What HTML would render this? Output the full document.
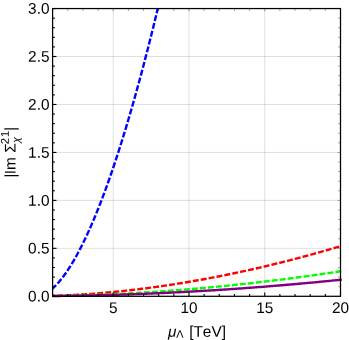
<!DOCTYPE html>
<html><head><meta charset="utf-8"><title>plot</title>
<style>
html,body{margin:0;padding:0;background:#fff;}
svg{display:block;will-change:transform;}
text{font-family:"Liberation Sans",sans-serif;fill:#000;font-kerning:none;}
</style></head><body>
<svg width="349" height="340" viewBox="0 0 349 340">
<rect x="0" y="0" width="349" height="340" fill="#fff"/>
<defs><clipPath id="c"><rect x="50.60" y="8.55" width="291.90" height="289.75"/></clipPath></defs>
<g stroke="#000" stroke-opacity="0.21" stroke-width="0.6" fill="none">
<line x1="113.21" y1="8.55" x2="113.21" y2="296.30"/>
<line x1="188.97" y1="8.55" x2="188.97" y2="296.30"/>
<line x1="264.74" y1="8.55" x2="264.74" y2="296.30"/>
<line x1="52.60" y1="248.34" x2="340.50" y2="248.34"/>
<line x1="52.60" y1="200.38" x2="340.50" y2="200.38"/>
<line x1="52.60" y1="152.43" x2="340.50" y2="152.43"/>
<line x1="52.60" y1="104.47" x2="340.50" y2="104.47"/>
<line x1="52.60" y1="56.51" x2="340.50" y2="56.51"/>
</g>
<g clip-path="url(#c)" fill="none" stroke-width="2.4" stroke-linecap="butt" stroke-linejoin="round">
<path d="M52.60,288.48 L53.15,287.99 L53.69,287.48 L54.24,286.96 L54.78,286.42 L55.33,285.87 L55.87,285.31 L56.42,284.74 L56.96,284.16 L57.51,283.56 L58.05,282.95 L58.60,282.33 L59.15,281.70 L59.69,281.05 L60.24,280.40 L60.78,279.73 L61.33,279.05 L61.87,278.36 L62.42,277.66 L62.96,276.94 L63.51,276.22 L64.06,275.48 L64.60,274.73 L65.15,273.97 L65.69,273.20 L66.24,272.42 L66.78,271.62 L67.33,270.82 L67.87,270.01 L68.42,269.18 L68.96,268.34 L69.51,267.50 L70.06,266.64 L70.60,265.77 L71.15,264.89 L71.69,264.00 L72.24,263.10 L72.78,262.19 L73.33,261.27 L73.87,260.34 L74.42,259.39 L74.97,258.44 L75.51,257.48 L76.06,256.50 L76.60,255.52 L77.15,254.53 L77.69,253.52 L78.24,252.51 L78.78,251.49 L79.33,250.45 L79.87,249.41 L80.42,248.35 L80.97,247.29 L81.51,246.22 L82.06,245.13 L82.60,244.04 L83.15,242.93 L83.69,241.82 L84.24,240.70 L84.78,239.57 L85.33,238.42 L85.88,237.27 L86.42,236.11 L86.97,234.94 L87.51,233.76 L88.06,232.57 L88.60,231.37 L89.15,230.16 L89.69,228.94 L90.24,227.71 L90.78,226.47 L91.33,225.22 L91.88,223.97 L92.42,222.70 L92.97,221.43 L93.51,220.14 L94.06,218.85 L94.60,217.54 L95.15,216.23 L95.69,214.91 L96.24,213.58 L96.79,212.24 L97.33,210.89 L97.88,209.53 L98.42,208.16 L98.97,206.79 L99.51,205.40 L100.06,204.01 L100.60,202.60 L101.15,201.19 L101.69,199.77 L102.24,198.34 L102.79,196.90 L103.33,195.45 L103.88,193.99 L104.42,192.53 L104.97,191.05 L105.51,189.57 L106.06,188.07 L106.60,186.57 L107.15,185.06 L107.69,183.54 L108.24,182.02 L108.79,180.48 L109.33,178.93 L109.88,177.38 L110.42,175.82 L110.97,174.25 L111.51,172.67 L112.06,171.08 L112.60,169.48 L113.15,167.87 L113.70,166.26 L114.24,164.64 L114.79,163.00 L115.33,161.36 L115.88,159.72 L116.42,158.06 L116.97,156.39 L117.51,154.72 L118.06,153.04 L118.60,151.34 L119.15,149.65 L119.70,147.94 L120.24,146.22 L120.79,144.50 L121.33,142.76 L121.88,141.02 L122.42,139.27 L122.97,137.51 L123.51,135.75 L124.06,133.97 L124.61,132.19 L125.15,130.40 L125.70,128.60 L126.24,126.79 L126.79,124.97 L127.33,123.15 L127.88,121.32 L128.42,119.48 L128.97,117.63 L129.51,115.77 L130.06,113.91 L130.61,112.03 L131.15,110.15 L131.70,108.26 L132.24,106.36 L132.79,104.46 L133.33,102.54 L133.88,100.62 L134.42,98.69 L134.97,96.75 L135.52,94.81 L136.06,92.85 L136.61,90.89 L137.15,88.92 L137.70,86.94 L138.24,84.96 L138.79,82.96 L139.33,80.96 L139.88,78.95 L140.42,76.93 L140.97,74.91 L141.52,72.87 L142.06,70.83 L142.61,68.78 L143.15,66.72 L143.70,64.66 L144.24,62.59 L144.79,60.50 L145.33,58.42 L145.88,56.32 L146.43,54.21 L146.97,52.10 L147.52,49.98 L148.06,47.85 L148.61,45.72 L149.15,43.57 L149.70,41.42 L150.24,39.26 L150.79,37.10 L151.33,34.92 L151.88,32.74 L152.43,30.55 L152.97,28.35 L153.52,26.15 L154.06,23.93 L154.61,21.71 L155.15,19.48 L155.70,17.25 L156.24,15.01 L156.79,12.75 L157.33,10.50 L157.88,8.23 L158.43,5.95 L158.97,3.67 L159.52,1.38 L160.06,-0.91 L160.61,-3.22 L161.15,-5.53 L161.70,-7.85" stroke="#0000ff" stroke-dasharray="5.95 2.1" stroke-dashoffset="1.07"/>
<path d="M52.60,295.83 L54.04,295.79 L55.48,295.75 L56.92,295.70 L58.36,295.66 L59.80,295.61 L61.24,295.55 L62.68,295.50 L64.12,295.44 L65.56,295.38 L67.00,295.31 L68.43,295.25 L69.87,295.18 L71.31,295.11 L72.75,295.03 L74.19,294.96 L75.63,294.88 L77.07,294.80 L78.51,294.71 L79.95,294.63 L81.39,294.54 L82.83,294.45 L84.27,294.35 L85.71,294.26 L87.15,294.16 L88.59,294.06 L90.03,293.96 L91.47,293.85 L92.91,293.75 L94.35,293.64 L95.78,293.52 L97.22,293.41 L98.66,293.29 L100.10,293.18 L101.54,293.05 L102.98,292.93 L104.42,292.81 L105.86,292.68 L107.30,292.55 L108.74,292.42 L110.18,292.28 L111.62,292.15 L113.06,292.01 L114.50,291.87 L115.94,291.73 L117.38,291.58 L118.82,291.44 L120.26,291.29 L121.70,291.14 L123.14,290.98 L124.57,290.83 L126.01,290.67 L127.45,290.51 L128.89,290.35 L130.33,290.19 L131.77,290.02 L133.21,289.85 L134.65,289.68 L136.09,289.51 L137.53,289.34 L138.97,289.16 L140.41,288.99 L141.85,288.81 L143.29,288.62 L144.73,288.44 L146.17,288.25 L147.61,288.07 L149.05,287.88 L150.49,287.68 L151.93,287.49 L153.37,287.29 L154.80,287.10 L156.24,286.90 L157.68,286.70 L159.12,286.49 L160.56,286.29 L162.00,286.08 L163.44,285.87 L164.88,285.66 L166.32,285.44 L167.76,285.23 L169.20,285.01 L170.64,284.79 L172.08,284.57 L173.52,284.35 L174.96,284.12 L176.40,283.90 L177.84,283.67 L179.28,283.44 L180.72,283.20 L182.16,282.97 L183.59,282.73 L185.03,282.49 L186.47,282.25 L187.91,282.01 L189.35,281.77 L190.79,281.52 L192.23,281.27 L193.67,281.02 L195.11,280.77 L196.55,280.52 L197.99,280.26 L199.43,280.01 L200.87,279.75 L202.31,279.49 L203.75,279.22 L205.19,278.96 L206.63,278.69 L208.07,278.42 L209.51,278.15 L210.94,277.88 L212.38,277.61 L213.82,277.33 L215.26,277.06 L216.70,276.78 L218.14,276.50 L219.58,276.21 L221.02,275.93 L222.46,275.64 L223.90,275.35 L225.34,275.06 L226.78,274.77 L228.22,274.48 L229.66,274.18 L231.10,273.88 L232.54,273.59 L233.98,273.28 L235.42,272.98 L236.86,272.68 L238.30,272.37 L239.73,272.06 L241.17,271.75 L242.61,271.44 L244.05,271.13 L245.49,270.81 L246.93,270.50 L248.37,270.18 L249.81,269.86 L251.25,269.53 L252.69,269.21 L254.13,268.88 L255.57,268.56 L257.01,268.23 L258.45,267.90 L259.89,267.56 L261.33,267.23 L262.77,266.89 L264.21,266.56 L265.65,266.22 L267.09,265.87 L268.52,265.53 L269.96,265.19 L271.40,264.84 L272.84,264.49 L274.28,264.14 L275.72,263.79 L277.16,263.43 L278.60,263.08 L280.04,262.72 L281.48,262.36 L282.92,262.00 L284.36,261.64 L285.80,261.28 L287.24,260.91 L288.68,260.54 L290.12,260.17 L291.56,259.80 L293.00,259.43 L294.44,259.06 L295.88,258.68 L297.31,258.30 L298.75,257.92 L300.19,257.54 L301.63,257.16 L303.07,256.78 L304.51,256.39 L305.95,256.00 L307.39,255.61 L308.83,255.22 L310.27,254.83 L311.71,254.43 L313.15,254.04 L314.59,253.64 L316.03,253.24 L317.47,252.84 L318.91,252.44 L320.35,252.03 L321.79,251.63 L323.23,251.22 L324.67,250.81 L326.11,250.40 L327.54,249.98 L328.98,249.57 L330.42,249.15 L331.86,248.74 L333.30,248.32 L334.74,247.89 L336.18,247.47 L337.62,247.05 L339.06,246.62 L340.50,246.19" stroke="#ff0000" stroke-dasharray="5.94 2.09" stroke-dashoffset="3.42"/>
<path d="M52.60,295.96 L54.05,295.94 L55.49,295.92 L56.94,295.90 L58.38,295.88 L59.83,295.86 L61.28,295.83 L62.72,295.81 L64.17,295.78 L65.61,295.76 L67.06,295.73 L68.51,295.70 L69.95,295.67 L71.40,295.63 L72.84,295.60 L74.29,295.56 L75.74,295.53 L77.18,295.49 L78.63,295.45 L80.07,295.41 L81.52,295.37 L82.97,295.33 L84.41,295.29 L85.86,295.24 L87.30,295.20 L88.75,295.15 L90.20,295.10 L91.64,295.05 L93.09,295.00 L94.53,294.95 L95.98,294.90 L97.43,294.84 L98.87,294.79 L100.32,294.73 L101.76,294.68 L103.21,294.62 L104.66,294.56 L106.10,294.50 L107.55,294.44 L108.99,294.37 L110.44,294.31 L111.89,294.25 L113.33,294.18 L114.78,294.11 L116.22,294.04 L117.67,293.97 L119.12,293.90 L120.56,293.83 L122.01,293.76 L123.45,293.69 L124.90,293.61 L126.35,293.54 L127.79,293.46 L129.24,293.38 L130.68,293.30 L132.13,293.22 L133.58,293.14 L135.02,293.06 L136.47,292.98 L137.91,292.89 L139.36,292.81 L140.81,292.72 L142.25,292.63 L143.70,292.54 L145.15,292.45 L146.59,292.36 L148.04,292.27 L149.48,292.18 L150.93,292.09 L152.38,291.99 L153.82,291.90 L155.27,291.80 L156.71,291.70 L158.16,291.60 L159.61,291.50 L161.05,291.40 L162.50,291.30 L163.94,291.20 L165.39,291.09 L166.84,290.99 L168.28,290.88 L169.73,290.77 L171.17,290.67 L172.62,290.56 L174.07,290.45 L175.51,290.34 L176.96,290.22 L178.40,290.11 L179.85,290.00 L181.30,289.88 L182.74,289.77 L184.19,289.65 L185.63,289.53 L187.08,289.41 L188.53,289.29 L189.97,289.17 L191.42,289.05 L192.86,288.92 L194.31,288.80 L195.76,288.68 L197.20,288.55 L198.65,288.42 L200.09,288.29 L201.54,288.16 L202.99,288.03 L204.43,287.90 L205.88,287.77 L207.32,287.64 L208.77,287.50 L210.22,287.37 L211.66,287.23 L213.11,287.10 L214.55,286.96 L216.00,286.82 L217.45,286.68 L218.89,286.54 L220.34,286.40 L221.78,286.25 L223.23,286.11 L224.68,285.97 L226.12,285.82 L227.57,285.67 L229.01,285.53 L230.46,285.38 L231.91,285.23 L233.35,285.08 L234.80,284.92 L236.24,284.77 L237.69,284.62 L239.14,284.46 L240.58,284.31 L242.03,284.15 L243.47,284.00 L244.92,283.84 L246.37,283.68 L247.81,283.52 L249.26,283.36 L250.70,283.19 L252.15,283.03 L253.60,282.87 L255.04,282.70 L256.49,282.54 L257.93,282.37 L259.38,282.20 L260.83,282.03 L262.27,281.86 L263.72,281.69 L265.16,281.52 L266.61,281.35 L268.06,281.18 L269.50,281.00 L270.95,280.83 L272.39,280.65 L273.84,280.47 L275.29,280.29 L276.73,280.11 L278.18,279.93 L279.62,279.75 L281.07,279.57 L282.52,279.39 L283.96,279.20 L285.41,279.02 L286.85,278.83 L288.30,278.65 L289.75,278.46 L291.19,278.27 L292.64,278.08 L294.08,277.89 L295.53,277.70 L296.98,277.51 L298.42,277.31 L299.87,277.12 L301.31,276.93 L302.76,276.73 L304.21,276.53 L305.65,276.34 L307.10,276.14 L308.54,275.94 L309.99,275.74 L311.44,275.54 L312.88,275.33 L314.33,275.13 L315.77,274.93 L317.22,274.72 L318.67,274.51 L320.11,274.31 L321.56,274.10 L323.00,273.89 L324.45,273.68 L325.90,273.47 L327.34,273.26 L328.79,273.05 L330.24,272.83 L331.68,272.62 L333.13,272.40 L334.57,272.19 L336.02,271.97 L337.47,271.75 L338.91,271.53 L340.36,271.31 L341.80,271.09" stroke="#00ff00" stroke-dasharray="5.94 2.09" stroke-dashoffset="5.05"/>
<path d="M52.60,296.00 L54.05,295.99 L55.49,295.97 L56.94,295.96 L58.38,295.95 L59.83,295.94 L61.28,295.92 L62.72,295.91 L64.17,295.89 L65.61,295.87 L67.06,295.85 L68.51,295.84 L69.95,295.82 L71.40,295.80 L72.84,295.78 L74.29,295.75 L75.74,295.73 L77.18,295.71 L78.63,295.68 L80.07,295.66 L81.52,295.63 L82.97,295.61 L84.41,295.58 L85.86,295.55 L87.30,295.52 L88.75,295.49 L90.20,295.46 L91.64,295.43 L93.09,295.40 L94.53,295.37 L95.98,295.34 L97.43,295.30 L98.87,295.27 L100.32,295.23 L101.76,295.20 L103.21,295.16 L104.66,295.12 L106.10,295.08 L107.55,295.04 L108.99,295.00 L110.44,294.96 L111.89,294.92 L113.33,294.88 L114.78,294.84 L116.22,294.79 L117.67,294.75 L119.12,294.70 L120.56,294.66 L122.01,294.61 L123.45,294.56 L124.90,294.52 L126.35,294.47 L127.79,294.42 L129.24,294.37 L130.68,294.32 L132.13,294.27 L133.58,294.21 L135.02,294.16 L136.47,294.11 L137.91,294.05 L139.36,294.00 L140.81,293.94 L142.25,293.89 L143.70,293.83 L145.15,293.77 L146.59,293.71 L148.04,293.65 L149.48,293.60 L150.93,293.53 L152.38,293.47 L153.82,293.41 L155.27,293.35 L156.71,293.29 L158.16,293.22 L159.61,293.16 L161.05,293.09 L162.50,293.02 L163.94,292.96 L165.39,292.89 L166.84,292.82 L168.28,292.75 L169.73,292.68 L171.17,292.61 L172.62,292.54 L174.07,292.47 L175.51,292.40 L176.96,292.33 L178.40,292.25 L179.85,292.18 L181.30,292.10 L182.74,292.03 L184.19,291.95 L185.63,291.87 L187.08,291.80 L188.53,291.72 L189.97,291.64 L191.42,291.56 L192.86,291.48 L194.31,291.40 L195.76,291.31 L197.20,291.23 L198.65,291.15 L200.09,291.06 L201.54,290.98 L202.99,290.90 L204.43,290.81 L205.88,290.72 L207.32,290.64 L208.77,290.55 L210.22,290.46 L211.66,290.37 L213.11,290.28 L214.55,290.19 L216.00,290.10 L217.45,290.01 L218.89,289.91 L220.34,289.82 L221.78,289.73 L223.23,289.63 L224.68,289.54 L226.12,289.44 L227.57,289.34 L229.01,289.25 L230.46,289.15 L231.91,289.05 L233.35,288.95 L234.80,288.85 L236.24,288.75 L237.69,288.65 L239.14,288.55 L240.58,288.44 L242.03,288.34 L243.47,288.24 L244.92,288.13 L246.37,288.03 L247.81,287.92 L249.26,287.82 L250.70,287.71 L252.15,287.60 L253.60,287.49 L255.04,287.38 L256.49,287.27 L257.93,287.16 L259.38,287.05 L260.83,286.94 L262.27,286.83 L263.72,286.71 L265.16,286.60 L266.61,286.49 L268.06,286.37 L269.50,286.26 L270.95,286.14 L272.39,286.02 L273.84,285.91 L275.29,285.79 L276.73,285.67 L278.18,285.55 L279.62,285.43 L281.07,285.31 L282.52,285.19 L283.96,285.06 L285.41,284.94 L286.85,284.82 L288.30,284.69 L289.75,284.57 L291.19,284.44 L292.64,284.32 L294.08,284.19 L295.53,284.06 L296.98,283.94 L298.42,283.81 L299.87,283.68 L301.31,283.55 L302.76,283.42 L304.21,283.29 L305.65,283.15 L307.10,283.02 L308.54,282.89 L309.99,282.76 L311.44,282.62 L312.88,282.49 L314.33,282.35 L315.77,282.21 L317.22,282.08 L318.67,281.94 L320.11,281.80 L321.56,281.66 L323.00,281.52 L324.45,281.38 L325.90,281.24 L327.34,281.10 L328.79,280.96 L330.24,280.82 L331.68,280.67 L333.13,280.53 L334.57,280.38 L336.02,280.24 L337.47,280.09 L338.91,279.95 L340.36,279.80 L341.80,279.65" stroke="#800080"/>
</g>
<g stroke="#000" stroke-width="1.1" fill="none">
<line x1="52.60" y1="296.30" x2="52.60" y2="294.00"/>
<line x1="67.75" y1="296.30" x2="67.75" y2="294.00"/>
<line x1="82.91" y1="296.30" x2="82.91" y2="294.00"/>
<line x1="98.06" y1="296.30" x2="98.06" y2="294.00"/>
<line x1="113.21" y1="296.30" x2="113.21" y2="292.40"/>
<line x1="128.36" y1="296.30" x2="128.36" y2="294.00"/>
<line x1="143.52" y1="296.30" x2="143.52" y2="294.00"/>
<line x1="158.67" y1="296.30" x2="158.67" y2="294.00"/>
<line x1="173.82" y1="296.30" x2="173.82" y2="294.00"/>
<line x1="188.97" y1="296.30" x2="188.97" y2="292.40"/>
<line x1="204.13" y1="296.30" x2="204.13" y2="294.00"/>
<line x1="219.28" y1="296.30" x2="219.28" y2="294.00"/>
<line x1="234.43" y1="296.30" x2="234.43" y2="294.00"/>
<line x1="249.58" y1="296.30" x2="249.58" y2="294.00"/>
<line x1="264.74" y1="296.30" x2="264.74" y2="292.40"/>
<line x1="279.89" y1="296.30" x2="279.89" y2="294.00"/>
<line x1="295.04" y1="296.30" x2="295.04" y2="294.00"/>
<line x1="310.19" y1="296.30" x2="310.19" y2="294.00"/>
<line x1="325.35" y1="296.30" x2="325.35" y2="294.00"/>
<line x1="340.50" y1="296.30" x2="340.50" y2="292.40"/>
<line x1="52.60" y1="296.30" x2="56.50" y2="296.30"/>
<line x1="52.60" y1="286.71" x2="54.90" y2="286.71"/>
<line x1="52.60" y1="277.12" x2="54.90" y2="277.12"/>
<line x1="52.60" y1="267.53" x2="54.90" y2="267.53"/>
<line x1="52.60" y1="257.93" x2="54.90" y2="257.93"/>
<line x1="52.60" y1="248.34" x2="56.50" y2="248.34"/>
<line x1="52.60" y1="238.75" x2="54.90" y2="238.75"/>
<line x1="52.60" y1="229.16" x2="54.90" y2="229.16"/>
<line x1="52.60" y1="219.57" x2="54.90" y2="219.57"/>
<line x1="52.60" y1="209.98" x2="54.90" y2="209.98"/>
<line x1="52.60" y1="200.38" x2="56.50" y2="200.38"/>
<line x1="52.60" y1="190.79" x2="54.90" y2="190.79"/>
<line x1="52.60" y1="181.20" x2="54.90" y2="181.20"/>
<line x1="52.60" y1="171.61" x2="54.90" y2="171.61"/>
<line x1="52.60" y1="162.02" x2="54.90" y2="162.02"/>
<line x1="52.60" y1="152.43" x2="56.50" y2="152.43"/>
<line x1="52.60" y1="142.83" x2="54.90" y2="142.83"/>
<line x1="52.60" y1="133.24" x2="54.90" y2="133.24"/>
<line x1="52.60" y1="123.65" x2="54.90" y2="123.65"/>
<line x1="52.60" y1="114.06" x2="54.90" y2="114.06"/>
<line x1="52.60" y1="104.47" x2="56.50" y2="104.47"/>
<line x1="52.60" y1="94.88" x2="54.90" y2="94.88"/>
<line x1="52.60" y1="85.28" x2="54.90" y2="85.28"/>
<line x1="52.60" y1="75.69" x2="54.90" y2="75.69"/>
<line x1="52.60" y1="66.10" x2="54.90" y2="66.10"/>
<line x1="52.60" y1="56.51" x2="56.50" y2="56.51"/>
<line x1="52.60" y1="46.92" x2="54.90" y2="46.92"/>
<line x1="52.60" y1="37.32" x2="54.90" y2="37.32"/>
<line x1="52.60" y1="27.73" x2="54.90" y2="27.73"/>
<line x1="52.60" y1="18.14" x2="54.90" y2="18.14"/>
<line x1="52.60" y1="8.55" x2="56.50" y2="8.55"/>
</g>
<g stroke="#000" stroke-opacity="0.5" stroke-width="0.7" fill="none">
<line x1="52.60" y1="8.55" x2="52.60" y2="11.05"/>
<line x1="67.75" y1="8.55" x2="67.75" y2="11.05"/>
<line x1="82.91" y1="8.55" x2="82.91" y2="11.05"/>
<line x1="98.06" y1="8.55" x2="98.06" y2="11.05"/>
<line x1="113.21" y1="8.55" x2="113.21" y2="11.35"/>
<line x1="128.36" y1="8.55" x2="128.36" y2="11.05"/>
<line x1="143.52" y1="8.55" x2="143.52" y2="11.05"/>
<line x1="158.67" y1="8.55" x2="158.67" y2="11.05"/>
<line x1="173.82" y1="8.55" x2="173.82" y2="11.05"/>
<line x1="188.97" y1="8.55" x2="188.97" y2="11.35"/>
<line x1="204.13" y1="8.55" x2="204.13" y2="11.05"/>
<line x1="219.28" y1="8.55" x2="219.28" y2="11.05"/>
<line x1="234.43" y1="8.55" x2="234.43" y2="11.05"/>
<line x1="249.58" y1="8.55" x2="249.58" y2="11.05"/>
<line x1="264.74" y1="8.55" x2="264.74" y2="11.35"/>
<line x1="279.89" y1="8.55" x2="279.89" y2="11.05"/>
<line x1="295.04" y1="8.55" x2="295.04" y2="11.05"/>
<line x1="310.19" y1="8.55" x2="310.19" y2="11.05"/>
<line x1="325.35" y1="8.55" x2="325.35" y2="11.05"/>
<line x1="340.50" y1="8.55" x2="340.50" y2="11.35"/>
<line x1="340.50" y1="296.30" x2="337.70" y2="296.30"/>
<line x1="340.50" y1="286.71" x2="338.00" y2="286.71"/>
<line x1="340.50" y1="277.12" x2="338.00" y2="277.12"/>
<line x1="340.50" y1="267.53" x2="338.00" y2="267.53"/>
<line x1="340.50" y1="257.93" x2="338.00" y2="257.93"/>
<line x1="340.50" y1="248.34" x2="337.70" y2="248.34"/>
<line x1="340.50" y1="238.75" x2="338.00" y2="238.75"/>
<line x1="340.50" y1="229.16" x2="338.00" y2="229.16"/>
<line x1="340.50" y1="219.57" x2="338.00" y2="219.57"/>
<line x1="340.50" y1="209.98" x2="338.00" y2="209.98"/>
<line x1="340.50" y1="200.38" x2="337.70" y2="200.38"/>
<line x1="340.50" y1="190.79" x2="338.00" y2="190.79"/>
<line x1="340.50" y1="181.20" x2="338.00" y2="181.20"/>
<line x1="340.50" y1="171.61" x2="338.00" y2="171.61"/>
<line x1="340.50" y1="162.02" x2="338.00" y2="162.02"/>
<line x1="340.50" y1="152.43" x2="337.70" y2="152.43"/>
<line x1="340.50" y1="142.83" x2="338.00" y2="142.83"/>
<line x1="340.50" y1="133.24" x2="338.00" y2="133.24"/>
<line x1="340.50" y1="123.65" x2="338.00" y2="123.65"/>
<line x1="340.50" y1="114.06" x2="338.00" y2="114.06"/>
<line x1="340.50" y1="104.47" x2="337.70" y2="104.47"/>
<line x1="340.50" y1="94.88" x2="338.00" y2="94.88"/>
<line x1="340.50" y1="85.28" x2="338.00" y2="85.28"/>
<line x1="340.50" y1="75.69" x2="338.00" y2="75.69"/>
<line x1="340.50" y1="66.10" x2="338.00" y2="66.10"/>
<line x1="340.50" y1="56.51" x2="337.70" y2="56.51"/>
<line x1="340.50" y1="46.92" x2="338.00" y2="46.92"/>
<line x1="340.50" y1="37.32" x2="338.00" y2="37.32"/>
<line x1="340.50" y1="27.73" x2="338.00" y2="27.73"/>
<line x1="340.50" y1="18.14" x2="338.00" y2="18.14"/>
<line x1="340.50" y1="8.55" x2="337.70" y2="8.55"/>
</g>
<rect x="52.60" y="8.55" width="287.90" height="287.75" fill="none" stroke="#000" stroke-width="1.25"/>
<g font-size="15.4">
<text transform="rotate(0.03 113.21 313.00)" x="113.21" y="313.00" text-anchor="middle">5</text>
<text transform="rotate(0.03 188.97 313.00)" x="188.97" y="313.00" text-anchor="middle">10</text>
<text transform="rotate(0.03 264.74 313.00)" x="264.74" y="313.00" text-anchor="middle">15</text>
<text transform="rotate(0.03 340.50 313.00)" x="340.50" y="313.00" text-anchor="middle">20</text>
<text transform="rotate(0.03 49.50 301.60)" x="49.50" y="301.60" text-anchor="end">0.0</text>
<text transform="rotate(0.03 49.50 253.64)" x="49.50" y="253.64" text-anchor="end">0.5</text>
<text transform="rotate(0.03 49.50 205.68)" x="49.50" y="205.68" text-anchor="end">1.0</text>
<text transform="rotate(0.03 49.50 157.73)" x="49.50" y="157.73" text-anchor="end">1.5</text>
<text transform="rotate(0.03 49.50 109.77)" x="49.50" y="109.77" text-anchor="end">2.0</text>
<text transform="rotate(0.03 49.50 61.81)" x="49.50" y="61.81" text-anchor="end">2.5</text>
<text transform="rotate(0.03 49.50 13.85)" x="49.50" y="13.85" text-anchor="end">3.0</text>
</g>
<g font-size="15.4">
<text transform="rotate(0.03 168.00 336.70)" x="168.00" y="336.70" font-style="italic">μ</text>
<text transform="rotate(0.03 176.20 337.70)" x="176.20" y="337.70" font-size="10.9">Λ</text>
<text transform="rotate(0.03 189.20 336.70)" x="189.20" y="336.70">[TeV]</text>
</g>
<g font-size="15.4" transform="translate(15.4,177.7) rotate(-90) skewY(0.05)">
<text x="0" y="0">|</text>
<text x="3.5" y="0">Im</text>
<text x="25.05" y="0">Σ</text>
<text x="33.4" y="-6.8" font-size="11.3" letter-spacing="1.1">21</text>
<text x="34.6" y="4.2" font-size="10.9" font-style="italic">χ</text>
<text x="46.6" y="0">|</text>
</g>
</svg>
</body></html>
